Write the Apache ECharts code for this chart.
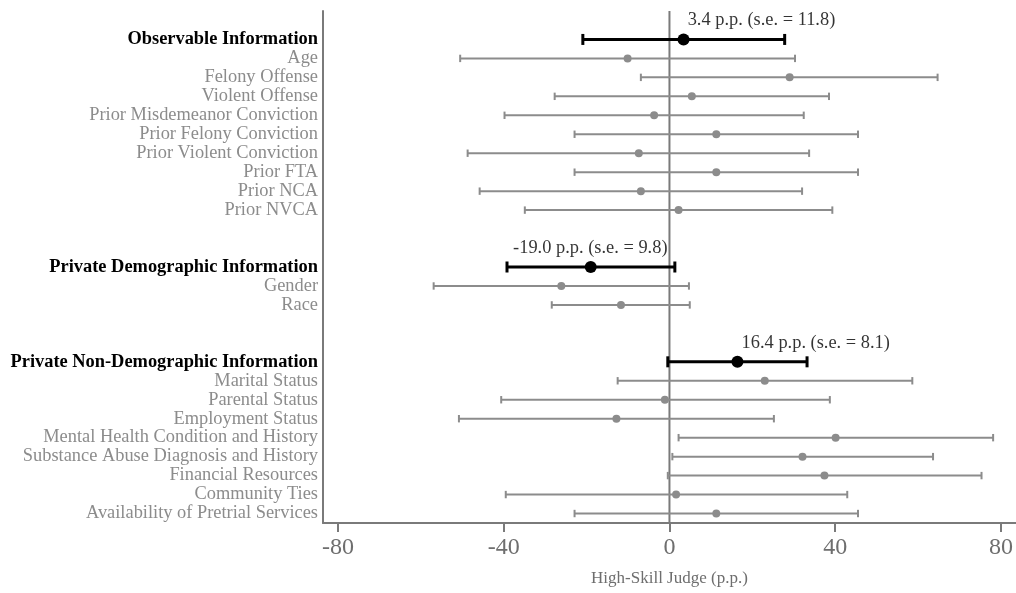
<!DOCTYPE html>
<html>
<head>
<meta charset="utf-8">
<script src="https://cdn.jsdelivr.net/npm/echarts@6/dist/echarts.min.js"></script>
<style>
html,body{margin:0;padding:0;background:#fff;}
#chart{width:1016px;height:593px;}
</style>
</head>
<body>
<div id="chart"></div>
<script>
// Row labels (top to bottom); entries starting with "_" are empty spacer rows
const categories = [
  '_top',
  'Observable Information',
  'Age', 'Felony Offense', 'Violent Offense', 'Prior Misdemeanor Conviction',
  'Prior Felony Conviction', 'Prior Violent Conviction', 'Prior FTA', 'Prior NCA', 'Prior NVCA',
  '_gap1', '_gap2',
  'Private Demographic Information',
  'Gender', 'Race',
  '_gap3', '_gap4',
  'Private Non-Demographic Information',
  'Marital Status', 'Parental Status', 'Employment Status',
  'Mental Health Condition and History', 'Substance Abuse Diagnosis and History',
  'Financial Resources', 'Community Ties', 'Availability of Pretrial Services'
];
const headerNames = ['Observable Information', 'Private Demographic Information', 'Private Non-Demographic Information'];

// Estimates and confidence intervals (p.p.)
const termNames = [
  'Observable Information', 'Age', 'Felony Offense', 'Violent Offense', 'Prior Misdemeanor Conviction',
  'Prior Felony Conviction', 'Prior Violent Conviction', 'Prior FTA', 'Prior NCA', 'Prior NVCA',
  'Private Demographic Information', 'Gender', 'Race',
  'Private Non-Demographic Information', 'Marital Status', 'Parental Status', 'Employment Status',
  'Mental Health Condition and History', 'Substance Abuse Diagnosis and History',
  'Financial Resources', 'Community Ties', 'Availability of Pretrial Services'
];
const estimates = [3.4, -10.1, 29.0, 5.4, -3.7, 11.3, -7.4, 11.3, -6.9, 2.2,
  -19.0, -26.1, -11.7,
  16.4, 23.0, -1.1, -12.8, 40.1, 32.1, 37.4, 1.6, 11.3];
const lowerCI = [-20.9, -50.5, -6.9, -27.7, -39.8, -22.9, -48.7, -22.9, -45.8, -34.9,
  -39.2, -56.9, -28.4,
  -0.4, -12.5, -40.6, -50.8, 2.2, 0.7, -0.4, -39.5, -22.9];
const upperCI = [27.8, 30.3, 64.7, 38.5, 32.4, 45.5, 33.7, 45.5, 32.0, 39.3,
  1.3, 4.7, 4.9,
  33.2, 58.6, 38.7, 25.2, 78.1, 63.6, 75.3, 42.9, 45.5];

// Group annotations
const annTerms = ['Observable Information', 'Private Demographic Information', 'Private Non-Demographic Information'];
const annTexts = ['3.4 p.p. (s.e. = 11.8)', '-19.0 p.p. (s.e. = 9.8)', '16.4 p.p. (s.e. = 8.1)'];
const annX = [22.2, -19.1, 35.3];

const xTicks = [-80, -40, 0, 40, 80];
const xTitle = 'High-Skill Judge (p.p.)';

const FONT = "'Liberation Serif', 'DejaVu Serif', serif";
const GRAY = '#8c8c8c';
const AXIS = '#7a7a7a';

const isHeader = n => headerNames.indexOf(n) >= 0;
const rowOf = n => categories.indexOf(n);

const barData = termNames.map((n, i) => [lowerCI[i], upperCI[i], rowOf(n), isHeader(n) ? 1 : 0]);
const ptData = termNames.map((n, i) => {
  const h = isHeader(n);
  return {
    value: [estimates[i], rowOf(n)],
    symbolSize: h ? 12 : 8,
    itemStyle: { color: h ? '#000' : GRAY, opacity: 1 }
  };
});
const annData = annTerms.map((n, i) => ({ value: [annX[i], rowOf(n)], text: annTexts[i] }));
// reference line at x = 0 spanning the full plot height (on a hidden 0..1 axis)
const zeroLine = [[0, 0], [0, 1]];

const chart = echarts.init(document.getElementById('chart'), null, { renderer: 'canvas' });
chart.setOption({
  animation: false,
  backgroundColor: '#fff',
  grid: { left: 323, right: 0, top: 11, bottom: 70, containLabel: false },
  xAxis: {
    type: 'value',
    min: -83.6, max: 83.6,
    splitLine: { show: false },
    axisLine: { show: true, onZero: false, lineStyle: { color: AXIS, width: 2 } },
    axisTick: { show: true, length: 9, customValues: xTicks, lineStyle: { color: AXIS, width: 2 } },
    axisLabel: { customValues: xTicks, color: '#6e6e6e', fontSize: 24, fontFamily: FONT, margin: 13 },
    name: xTitle,
    nameLocation: 'middle',
    nameGap: 47,
    nameTextStyle: { color: '#6e6e6e', fontSize: 17, fontFamily: FONT }
  },
  yAxis: [
    {
      type: 'category',
      data: categories,
      inverse: true,
      boundaryGap: true,
      axisLine: { show: true, onZero: false, lineStyle: { color: AXIS, width: 2 } },
      axisTick: { show: false },
      splitLine: { show: false },
      axisLabel: {
        interval: 0,
        margin: 5,
        fontFamily: FONT,
        formatter: v => v.charAt(0) === '_' ? '' : (isHeader(v) ? '{h|' + v + '}' : '{n|' + v + '}'),
        rich: {
          h: { fontFamily: FONT, fontSize: 18.4, fontWeight: 'bold', color: '#000' },
          n: { fontFamily: FONT, fontSize: 18.4, color: GRAY }
        }
      }
    },
    {
      type: 'value',
      min: 0, max: 1,
      show: false
    }
  ],
  series: [
    {
      type: 'line',
      yAxisIndex: 1,
      data: zeroLine,
      symbol: 'none',
      silent: true,
      z: 2,
      lineStyle: { color: AXIS, width: 2 }
    },
    {
      type: 'custom',
      data: barData,
      encode: { x: [0, 1], y: 2 },
      z: 3,
      renderItem: function (params, api) {
        const lo = api.coord([api.value(0), api.value(2)]);
        const hi = api.coord([api.value(1), api.value(2)]);
        const h = api.value(3) === 1;
        const col = h ? '#000' : GRAY;
        const lw = h ? 3 : 2;
        const cap = h ? 5.5 : 3.7;
        const style = { stroke: col, lineWidth: lw };
        return {
          type: 'group',
          children: [
            { type: 'line', shape: { x1: lo[0], y1: lo[1], x2: hi[0], y2: hi[1] }, style: style },
            { type: 'line', shape: { x1: lo[0], y1: lo[1] - cap, x2: lo[0], y2: lo[1] + cap }, style: style },
            { type: 'line', shape: { x1: hi[0], y1: hi[1] - cap, x2: hi[0], y2: hi[1] + cap }, style: style }
          ]
        };
      }
    },
    {
      type: 'scatter',
      data: ptData,
      z: 4
    },
    {
      type: 'scatter',
      data: annData,
      symbolSize: 0,
      z: 5,
      label: {
        show: true,
        position: 'inside',
        offset: [0, -19],
        formatter: p => p.data.text,
        color: '#000',
        fontSize: 18.4,
        fontFamily: FONT
      }
    }
  ]
});
</script>
</body>
</html>
